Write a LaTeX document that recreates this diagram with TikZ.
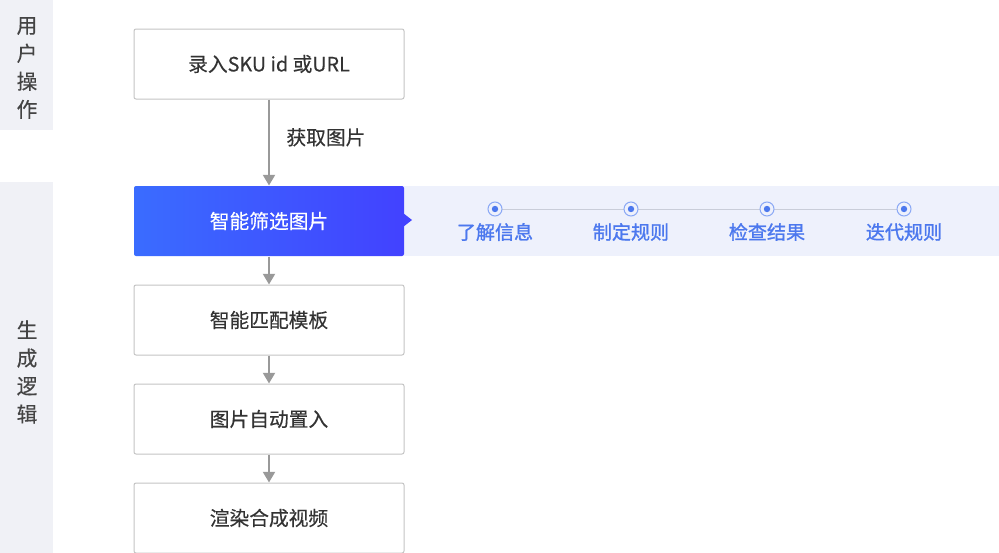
\documentclass[tikz,border=0pt]{standalone}
\usepackage{fontspec}
\setmainfont{Noto Sans CJK SC}
\newfontfamily\medfont{Noto Sans CJK SC}[FakeBold=0.35]
\newfontfamily\semifont{Noto Sans CJK SC}[FakeBold=1.2]
\usetikzlibrary{arrows.meta}
\definecolor{panelgray}{HTML}{F0F1F6}
\definecolor{boxline}{HTML}{C4C4C4}
\definecolor{txtgray}{HTML}{333333}
\definecolor{sidegray}{HTML}{444444}
\definecolor{arrowgray}{HTML}{999999}
\definecolor{bandblue}{HTML}{EEF1FC}
\definecolor{blueL}{HTML}{3A6CFF}
\definecolor{blueR}{HTML}{4242FF}
\definecolor{stepblue}{HTML}{4C78EE}
\definecolor{ringblue}{HTML}{8AA8F5}
\definecolor{lanegray}{HTML}{C9CDD9}

\begin{document}
\begin{tikzpicture}[x=0.75pt,y=-0.75pt,
    flowbox/.style={draw=boxline,line width=0.75pt,rounded corners=1.5pt,fill=white,
      minimum width=202.5pt,minimum height=52.5pt,inner sep=0pt,text=txtgray,
      font=\medfont\fontsize{14.8}{16}\selectfont},
    activebox/.style={flowbox,draw=none,left color=blueL,right color=blueR,text=white},
    flowarrow/.style={draw=arrowgray,line width=1.5pt,-{Triangle[width=9pt,length=8pt]}},
    sidetext/.style={align=center,text=sidegray,font=\medfont\fontsize{15.5}{21}\selectfont},
    steptext/.style={text=stepblue,font=\semifont\fontsize{14.3}{16}\selectfont},
    ring/.style={circle,draw=ringblue,line width=0.75pt,fill=bandblue,minimum size=10.5pt,inner sep=0pt}]
    \useasboundingbox (0,0) rectangle (999,553);
    \fill[panelgray] (0,0) rectangle (53,130);
    \fill[panelgray] (0,182) rectangle (53,553);
    \node[sidetext] (usertag) at (27,68) {用\\户\\操\\作};
    \node[sidetext] (logictag) at (27,372) {生\\成\\逻\\辑};
    \fill[bandblue] (404,186) rectangle (999,256);
    \node[flowbox] (input) at (269,64) {录入SKU id 或URL};
    \node[activebox] (select) at (269,221) {智能筛选图片};
    \fill[blueR] (403,213) -- (412,220) -- (403,227) -- cycle;
    \node[flowbox] (match) at (269,320) {智能匹配模板};
    \node[flowbox] (place) at (269,419) {图片自动置入};
    \node[flowbox] (render) at (269,518) {渲染合成视频};
    \draw[flowarrow] (input) -- node[pos=0.44,anchor=west,xshift=9pt,text=txtgray,
      font=\medfont\fontsize{14.8}{16}\selectfont] (fetch) {获取图片} (select);
    \draw[flowarrow] (select) -- (match);
    \draw[flowarrow] (match) -- (place);
    \draw[flowarrow] (place) -- (render);
    \foreach \x [count=\i] in {495,631,767,904}
      \coordinate (dot\i) at (\x,209);
    \draw[lanegray,line width=0.75pt] (dot1) -- (dot4);
    \foreach \x/\t [count=\i] in {495/了解信息,631/制定规则,767/检查结果,904/迭代规则} {
      \node[ring] (ring\i) at (dot\i) {};
      \fill[stepblue] (ring\i.center) circle (2.4pt);
      \node[steptext] (step\i) at (\x,232) {\t};
    }
\end{tikzpicture}
\end{document}
